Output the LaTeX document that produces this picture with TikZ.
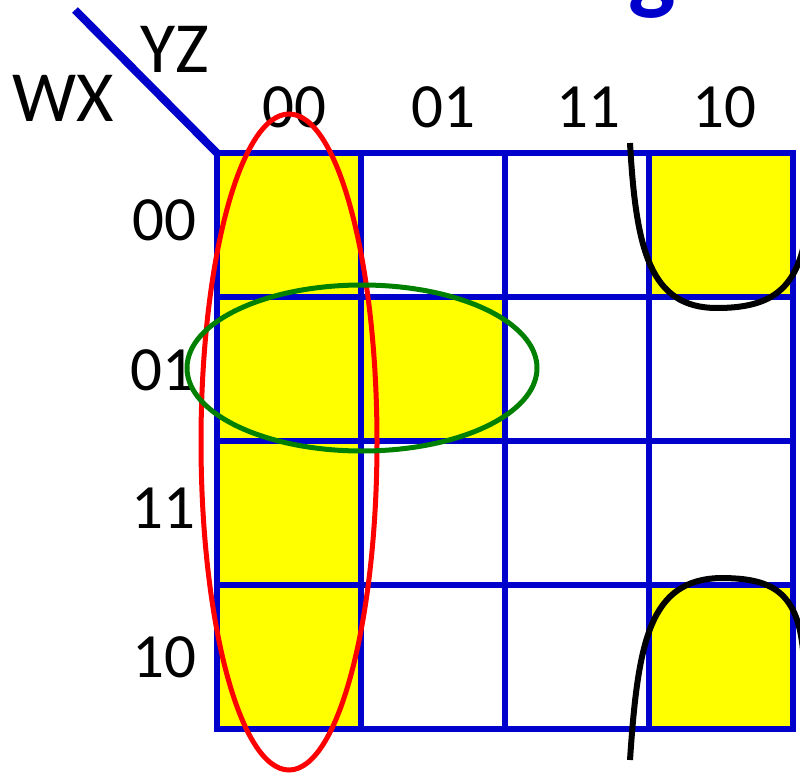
\documentclass[tikz,border=0pt]{standalone}
\usepackage{fontspec}
\setmainfont{Carlito}
\definecolor{kblue}{RGB}{0,0,204}
\definecolor{kgreen}{RGB}{0,128,0}
\definecolor{kyellow}{RGB}{255,255,0}
\tikzset{
  cell/.style={fill=kyellow},
  gridline/.style={kblue, line width=6pt},
  lab/.style={font=\fontsize{63}{70}\selectfont, inner sep=0pt},
  varlab/.style={font=\fontsize{72}{80}\selectfont, inner sep=0pt},
  loop/.style={line width=5pt}
}
\begin{document}
\begin{tikzpicture}[x=1pt, y=-1pt]
  \useasboundingbox (0,0) rectangle (800,773);
  \begin{scope}
    \clip (0,0) rectangle (800,773);
    % 标题残留
    \node[anchor=base, text=kblue, inner sep=0pt, font=\fontsize{100}{110}\selectfont\bfseries] (title) at (652,2) {g};

    % 填充的格子
    \fill[cell] (217,153) rectangle (361,297);
    \fill[cell] (217,297) rectangle (505,441);
    \fill[cell] (217,441) rectangle (361,729);
    \fill[cell] (649,153) rectangle (793,297);
    \fill[cell] (649,585) rectangle (793,729);

    % 卡诺图网格
    \draw[gridline] (217,153) rectangle (793,729);
    \draw[gridline] (361,153) -- (361,729);
    \draw[gridline] (505,153) -- (505,729);
    \draw[gridline] (649,153) -- (649,729);
    \draw[gridline] (217,297) -- (793,297);
    \draw[gridline] (217,441) -- (793,441);
    \draw[gridline] (217,585) -- (793,585);
    \draw[kblue, line width=8pt] (75,10) -- (217,153);

    % 变量标签
    \node[varlab] (wx) at (63,98) {WX};
    \node[varlab] (yz) at (175,49) {YZ};
    \node[lab] (c00) at (294,107) {00};
    \node[lab] (c01) at (443,107) {01};
    \node[lab] (c11) at (588,107) {11};
    \node[lab] (c10) at (724,107) {10};
    \node[lab] (r00) at (164,220) {00};
    \node[lab] (r01) at (162,370) {01};
    \node[lab] (r11) at (163,508) {11};
    \node[lab] (r10) at (164,657) {10};

    % 圈
    \draw[loop, red] (289,442) ellipse [x radius=88, y radius=328];
    \draw[loop, kgreen] (362,368) ellipse [x radius=175, y radius=83];
    \draw[loop, black, line width=6pt] (630,143) .. controls (636,250) and (650,308) .. (717,308)
      .. controls (770,308) and (795,290) .. (805,240);
    \draw[loop, black, line width=6pt] (630,760) .. controls (638,640) and (650,580) .. (720,578)
      .. controls (770,578) and (797,590) .. (803,650);
  \end{scope}
\end{tikzpicture}
\end{document}
